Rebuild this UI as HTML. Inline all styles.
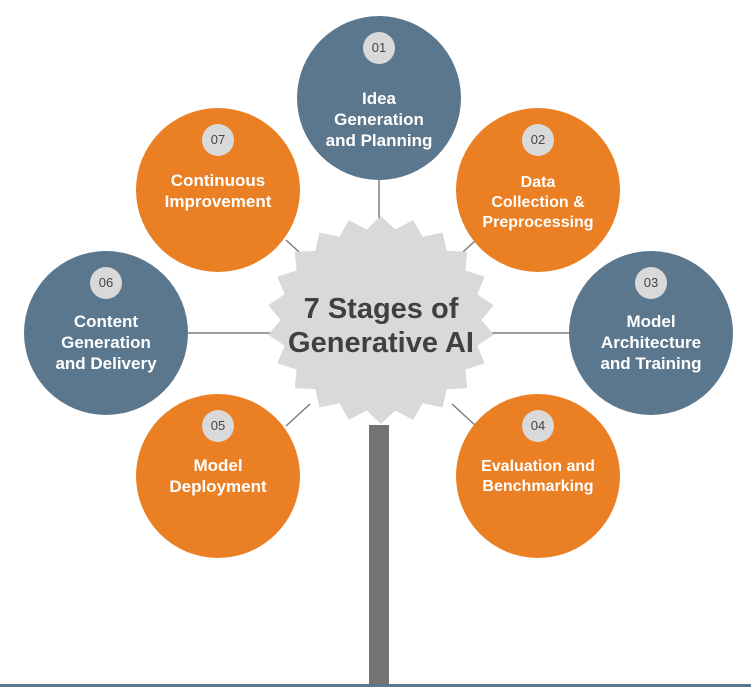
<!DOCTYPE html>
<html><head><style>
body{margin:0;width:751px;height:687px;background:#fff;overflow:hidden;position:relative;font-family:"Liberation Sans",sans-serif}
.c{position:absolute;width:164px;height:164px;border-radius:50%;color:#fff;font-weight:bold;font-size:17px;line-height:21px;text-align:center}
.b{background:#5b778e}.o{background:#eb7f24}
.n{position:absolute;left:66px;top:16px;width:32px;height:32px;border-radius:50%;background:#d9d9d9;color:#444;font-size:13px;font-weight:normal;line-height:32px}
.t{position:absolute;left:0;width:164px}
</style></head><body>
<svg width="751" height="687" style="position:absolute;left:0;top:0">
<g stroke="#7f7f7f" stroke-width="1.5">
<line x1="379" y1="180" x2="379" y2="222"/>
<line x1="188" y1="333" x2="272" y2="333"/>
<line x1="490" y1="333" x2="569" y2="333"/>
<line x1="286" y1="240" x2="310" y2="262"/>
<line x1="476" y1="240" x2="452" y2="262"/>
<line x1="286" y1="426" x2="310" y2="404"/>
<line x1="476" y1="426" x2="452" y2="404"/>
</g>
<rect x="369" y="425" width="20" height="262" fill="#737373"/>
<rect x="0" y="684" width="751" height="3" fill="#5b778e"/>
<polygon id="star" fill="#d9d9d9" points=""/>
</svg>
<script>
var p=[],N=22,cx=381,cy=320;
for(var i=0;i<2*N;i++){var a=Math.PI*i/N-Math.PI/2;var r=i%2==0?1:0.88;p.push((cx+114*r*Math.cos(a)).toFixed(1)+","+(cy+104*r*Math.sin(a)).toFixed(1));}
document.getElementById("star").setAttribute("points",p.join(" "));
</script>
<div style="position:absolute;left:261px;top:292px;width:240px;text-align:center;color:#404040;font-weight:bold;font-size:29px;line-height:34px">7 Stages of<br>Generative AI</div>
<div class="c b" style="left:297px;top:16px"><div class="n">01</div><div class="t" style="top:72px">Idea<br>Generation<br>and Planning</div></div>
<div class="c o" style="left:456px;top:108px"><div class="n">02</div><div class="t" style="top:65px;font-size:16px;line-height:20px">Data<br>Collection &amp;<br>Preprocessing</div></div>
<div class="c b" style="left:569px;top:251px"><div class="n">03</div><div class="t" style="top:60px">Model<br>Architecture<br>and Training</div></div>
<div class="c o" style="left:456px;top:394px"><div class="n">04</div><div class="t" style="top:63px;font-size:16px;line-height:20px">Evaluation and<br>Benchmarking</div></div>
<div class="c o" style="left:136px;top:394px"><div class="n">05</div><div class="t" style="top:61px">Model<br>Deployment</div></div>
<div class="c b" style="left:24px;top:251px"><div class="n">06</div><div class="t" style="top:60px">Content<br>Generation<br>and Delivery</div></div>
<div class="c o" style="left:136px;top:108px"><div class="n">07</div><div class="t" style="top:62px">Continuous<br>Improvement</div></div>
</body></html>
